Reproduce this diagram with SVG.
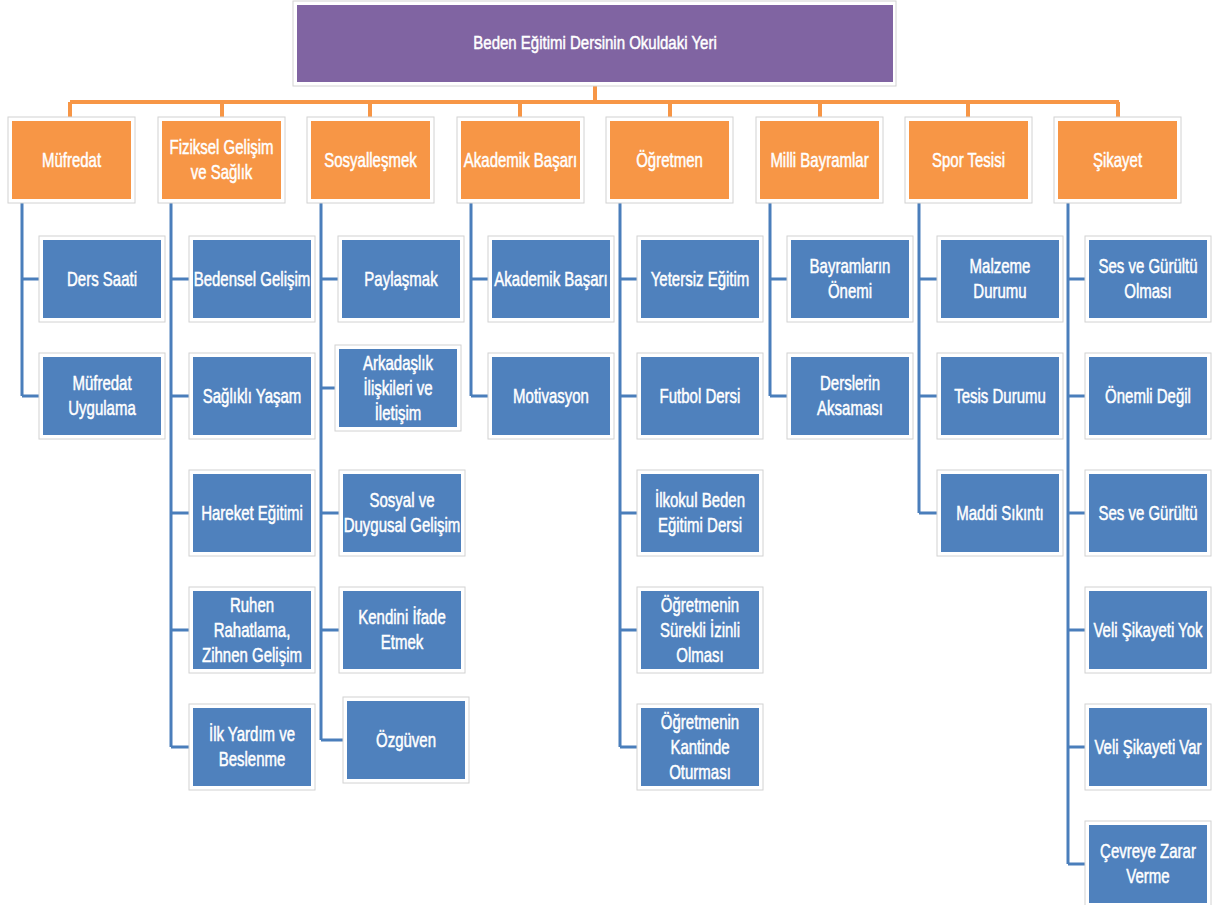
<svg xmlns="http://www.w3.org/2000/svg" width="1221" height="905" viewBox="0 0 1221 905">
<style>
.fr{fill:#fff;stroke:#d2d2d2;stroke-width:1}
.pu{fill:#8064A2}
.or{fill:#F79646}
.bl{fill:#4F81BD}
.t{font-family:"Liberation Sans",Arial,sans-serif;font-size:20px;fill:#fff;stroke:#fff;stroke-width:0.5;text-anchor:middle}
.oc{fill:none;stroke:#F79646;stroke-width:4}
.bc{fill:none;stroke:#4A7EBB;stroke-width:3}
</style>
<rect width="1221" height="905" fill="#fff"/>
<g id="connectors">
<path class="oc" d="M595 86V102M70 102H1119M70 102V117M222 102V117M370 102V117M520 102V117M670 102V117M820 102V117M968 102V117M1118 102V117"/>
<path class="bc" d="M22 203V396M22 279H39M22 396H39"/>
<path class="bc" d="M171 203V747M171 279H189M171 396H189M171 513H189M171 630H189M171 747H189"/>
<path class="bc" d="M321 203V740M321 279H338M321 388H335M321 513H339M321 630H339M321 740H343"/>
<path class="bc" d="M471 203V396M471 279H488M471 396H488"/>
<path class="bc" d="M620 203V747M620 279H637M620 396H637M620 513H637M620 630H637M620 747H637"/>
<path class="bc" d="M770 203V396M770 279H787M770 396H787"/>
<path class="bc" d="M919 203V513M919 279H937M919 396H937M919 513H937"/>
<path class="bc" d="M1068 203V864M1068 279H1085M1068 396H1085M1068 513H1085M1068 630H1085M1068 747H1085M1068 864H1085"/>
</g>
<g id="root"><rect class="fr" x="293" y="1" width="603" height="85"/><rect class="pu" x="297" y="5" width="596" height="77"/><text class="t" transform="translate(595 0) scale(0.79 1)" x="0" y="49" style="font-size:19px">Beden Eğitimi Dersinin Okuldaki Yeri</text></g>

<g id="mufredat"><rect class="fr" x="8" y="117" width="127" height="86"/><rect class="or" x="12" y="121" width="119" height="78"/><text class="t" transform="translate(71.5 0) scale(0.75 1)" x="0" y="167">Müfredat</text></g>
<g id="fiziksel"><rect class="fr" x="158" y="117" width="127" height="86"/><rect class="or" x="162" y="121" width="119" height="78"/><text class="t" transform="translate(221.5 0) scale(0.75 1)"><tspan x="0" y="154.5">Fiziksel Gelişim</tspan><tspan x="0" y="179.5">ve Sağlık</tspan></text></g>
<g id="sosyallesmek"><rect class="fr" x="307" y="117" width="127" height="86"/><rect class="or" x="311" y="121" width="119" height="78"/><text class="t" transform="translate(370.5 0) scale(0.75 1)" x="0" y="167">Sosyalleşmek</text></g>
<g id="akademik"><rect class="fr" x="457" y="117" width="127" height="86"/><rect class="or" x="461" y="121" width="119" height="78"/><text class="t" transform="translate(520.5 0) scale(0.75 1)" x="0" y="167">Akademik Başarı</text></g>
<g id="ogretmen"><rect class="fr" x="606" y="117" width="127" height="86"/><rect class="or" x="610" y="121" width="119" height="78"/><text class="t" transform="translate(669.5 0) scale(0.75 1)" x="0" y="167">Öğretmen</text></g>
<g id="milli"><rect class="fr" x="756" y="117" width="127" height="86"/><rect class="or" x="760" y="121" width="119" height="78"/><text class="t" transform="translate(819.5 0) scale(0.75 1)" x="0" y="167">Milli Bayramlar</text></g>
<g id="spor"><rect class="fr" x="905" y="117" width="127" height="86"/><rect class="or" x="909" y="121" width="119" height="78"/><text class="t" transform="translate(968.5 0) scale(0.75 1)" x="0" y="167">Spor Tesisi</text></g>
<g id="sikayet"><rect class="fr" x="1054" y="117" width="127" height="86"/><rect class="or" x="1058" y="121" width="119" height="78"/><text class="t" transform="translate(1117.5 0) scale(0.75 1)" x="0" y="167">Şikayet</text></g>

<g id="c1a"><rect class="fr" x="39" y="236" width="126" height="86"/><rect class="bl" x="43" y="240" width="118" height="78"/><text class="t" transform="translate(102 0) scale(0.75 1)" x="0" y="286">Ders Saati</text></g>
<g id="c1b"><rect class="fr" x="39" y="353" width="126" height="86"/><rect class="bl" x="43" y="357" width="118" height="78"/><text class="t" transform="translate(102 0) scale(0.75 1)"><tspan x="0" y="390.5">Müfredat</tspan><tspan x="0" y="415.5">Uygulama</tspan></text></g>

<g id="c2a"><rect class="fr" x="189" y="236" width="126" height="86"/><rect class="bl" x="193" y="240" width="118" height="78"/><text class="t" transform="translate(252 0) scale(0.75 1)" x="0" y="286">Bedensel Gelişim</text></g>
<g id="c2b"><rect class="fr" x="189" y="353" width="126" height="86"/><rect class="bl" x="193" y="357" width="118" height="78"/><text class="t" transform="translate(252 0) scale(0.75 1)" x="0" y="403">Sağlıklı Yaşam</text></g>
<g id="c2c"><rect class="fr" x="189" y="470" width="126" height="86"/><rect class="bl" x="193" y="474" width="118" height="78"/><text class="t" transform="translate(252 0) scale(0.75 1)" x="0" y="520">Hareket Eğitimi</text></g>
<g id="c2d"><rect class="fr" x="189" y="587" width="126" height="86"/><rect class="bl" x="193" y="591" width="118" height="78"/><text class="t" transform="translate(252 0) scale(0.75 1)"><tspan x="0" y="612">Ruhen</tspan><tspan x="0" y="637">Rahatlama,</tspan><tspan x="0" y="662">Zihnen Gelişim</tspan></text></g>
<g id="c2e"><rect class="fr" x="189" y="704" width="126" height="86"/><rect class="bl" x="193" y="708" width="118" height="78"/><text class="t" transform="translate(252 0) scale(0.75 1)"><tspan x="0" y="741.5">İlk Yardım ve</tspan><tspan x="0" y="766.5">Beslenme</tspan></text></g>

<g id="c3a"><rect class="fr" x="338" y="236" width="126" height="86"/><rect class="bl" x="342" y="240" width="118" height="78"/><text class="t" transform="translate(401 0) scale(0.75 1)" x="0" y="286">Paylaşmak</text></g>
<g id="c3b"><rect class="fr" x="335" y="345" width="126" height="86"/><rect class="bl" x="339" y="349" width="118" height="78"/><text class="t" transform="translate(398 0) scale(0.75 1)"><tspan x="0" y="370">Arkadaşlık</tspan><tspan x="0" y="395">İlişkileri ve</tspan><tspan x="0" y="420">İletişim</tspan></text></g>
<g id="c3c"><rect class="fr" x="339" y="470" width="126" height="86"/><rect class="bl" x="343" y="474" width="118" height="78"/><text class="t" transform="translate(402 0) scale(0.75 1)"><tspan x="0" y="507.5">Sosyal ve</tspan><tspan x="0" y="532.5">Duygusal Gelişim</tspan></text></g>
<g id="c3d"><rect class="fr" x="339" y="587" width="126" height="86"/><rect class="bl" x="343" y="591" width="118" height="78"/><text class="t" transform="translate(402 0) scale(0.75 1)"><tspan x="0" y="624.5">Kendini İfade</tspan><tspan x="0" y="649.5">Etmek</tspan></text></g>
<g id="c3e"><rect class="fr" x="343" y="697" width="126" height="86"/><rect class="bl" x="347" y="701" width="118" height="78"/><text class="t" transform="translate(406 0) scale(0.75 1)" x="0" y="747">Özgüven</text></g>

<g id="c4a"><rect class="fr" x="488" y="236" width="126" height="86"/><rect class="bl" x="492" y="240" width="118" height="78"/><text class="t" transform="translate(551 0) scale(0.75 1)" x="0" y="286">Akademik Başarı</text></g>
<g id="c4b"><rect class="fr" x="488" y="353" width="126" height="86"/><rect class="bl" x="492" y="357" width="118" height="78"/><text class="t" transform="translate(551 0) scale(0.75 1)" x="0" y="403">Motivasyon</text></g>

<g id="c5a"><rect class="fr" x="637" y="236" width="126" height="86"/><rect class="bl" x="641" y="240" width="118" height="78"/><text class="t" transform="translate(700 0) scale(0.75 1)" x="0" y="286">Yetersiz Eğitim</text></g>
<g id="c5b"><rect class="fr" x="637" y="353" width="126" height="86"/><rect class="bl" x="641" y="357" width="118" height="78"/><text class="t" transform="translate(700 0) scale(0.75 1)" x="0" y="403">Futbol Dersi</text></g>
<g id="c5c"><rect class="fr" x="637" y="470" width="126" height="86"/><rect class="bl" x="641" y="474" width="118" height="78"/><text class="t" transform="translate(700 0) scale(0.75 1)"><tspan x="0" y="507.5">İlkokul Beden</tspan><tspan x="0" y="532.5">Eğitimi Dersi</tspan></text></g>
<g id="c5d"><rect class="fr" x="637" y="587" width="126" height="86"/><rect class="bl" x="641" y="591" width="118" height="78"/><text class="t" transform="translate(700 0) scale(0.75 1)"><tspan x="0" y="612">Öğretmenin</tspan><tspan x="0" y="637">Sürekli İzinli</tspan><tspan x="0" y="662">Olması</tspan></text></g>
<g id="c5e"><rect class="fr" x="637" y="704" width="126" height="86"/><rect class="bl" x="641" y="708" width="118" height="78"/><text class="t" transform="translate(700 0) scale(0.75 1)"><tspan x="0" y="729">Öğretmenin</tspan><tspan x="0" y="754">Kantinde</tspan><tspan x="0" y="779">Oturması</tspan></text></g>

<g id="c6a"><rect class="fr" x="787" y="236" width="126" height="86"/><rect class="bl" x="791" y="240" width="118" height="78"/><text class="t" transform="translate(850 0) scale(0.75 1)"><tspan x="0" y="273.5">Bayramların</tspan><tspan x="0" y="298.5">Önemi</tspan></text></g>
<g id="c6b"><rect class="fr" x="787" y="353" width="126" height="86"/><rect class="bl" x="791" y="357" width="118" height="78"/><text class="t" transform="translate(850 0) scale(0.75 1)"><tspan x="0" y="390.5">Derslerin</tspan><tspan x="0" y="415.5">Aksaması</tspan></text></g>

<g id="c7a"><rect class="fr" x="937" y="236" width="126" height="86"/><rect class="bl" x="941" y="240" width="118" height="78"/><text class="t" transform="translate(1000 0) scale(0.75 1)"><tspan x="0" y="273.5">Malzeme</tspan><tspan x="0" y="298.5">Durumu</tspan></text></g>
<g id="c7b"><rect class="fr" x="937" y="353" width="126" height="86"/><rect class="bl" x="941" y="357" width="118" height="78"/><text class="t" transform="translate(1000 0) scale(0.75 1)" x="0" y="403">Tesis Durumu</text></g>
<g id="c7c"><rect class="fr" x="937" y="470" width="126" height="86"/><rect class="bl" x="941" y="474" width="118" height="78"/><text class="t" transform="translate(1000 0) scale(0.75 1)" x="0" y="520">Maddi Sıkıntı</text></g>

<g id="c8a"><rect class="fr" x="1085" y="236" width="126" height="86"/><rect class="bl" x="1089" y="240" width="118" height="78"/><text class="t" transform="translate(1148 0) scale(0.75 1)"><tspan x="0" y="273.5">Ses ve Gürültü</tspan><tspan x="0" y="298.5">Olması</tspan></text></g>
<g id="c8b"><rect class="fr" x="1085" y="353" width="126" height="86"/><rect class="bl" x="1089" y="357" width="118" height="78"/><text class="t" transform="translate(1148 0) scale(0.75 1)" x="0" y="403">Önemli Değil</text></g>
<g id="c8c"><rect class="fr" x="1085" y="470" width="126" height="86"/><rect class="bl" x="1089" y="474" width="118" height="78"/><text class="t" transform="translate(1148 0) scale(0.75 1)" x="0" y="520">Ses ve Gürültü</text></g>
<g id="c8d"><rect class="fr" x="1085" y="587" width="126" height="86"/><rect class="bl" x="1089" y="591" width="118" height="78"/><text class="t" transform="translate(1148 0) scale(0.75 1)" x="0" y="637">Veli Şikayeti Yok</text></g>
<g id="c8e"><rect class="fr" x="1085" y="704" width="126" height="86"/><rect class="bl" x="1089" y="708" width="118" height="78"/><text class="t" transform="translate(1148 0) scale(0.75 1)" x="0" y="754">Veli Şikayeti Var</text></g>
<g id="c8f"><rect class="fr" x="1085" y="821" width="126" height="86"/><rect class="bl" x="1089" y="825" width="118" height="78"/><text class="t" transform="translate(1148 0) scale(0.75 1)"><tspan x="0" y="858.5">Çevreye Zarar</tspan><tspan x="0" y="883.5">Verme</tspan></text></g>
</svg>
